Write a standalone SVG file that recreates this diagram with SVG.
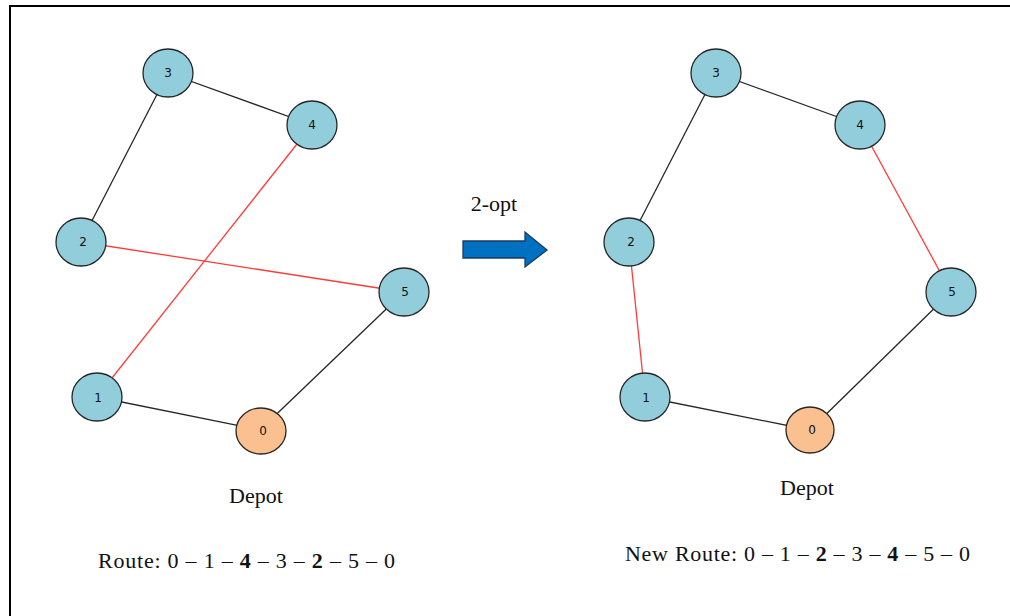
<svg xmlns="http://www.w3.org/2000/svg" width="1010" height="616" viewBox="0 0 1010 616">
<style>
.node{fill:#92CDDC;stroke:#262626;stroke-width:1.3}
.depot{fill:#FAC090;stroke:#262626;stroke-width:1.3}
.nl{font-family:"DejaVu Sans",sans-serif;font-size:12px;fill:#111;text-anchor:middle;dominant-baseline:central}
.blk{stroke:#262626;stroke-width:1.3;fill:none}
.red{stroke:#FF3B3B;stroke-width:1.3;fill:none}
.t{font-family:"Liberation Serif",serif;fill:#111}
</style>
<rect x="10" y="6" width="1010" height="620" fill="#fff" stroke="#000" stroke-width="2"/>
<g id="connectors">
<line class="blk" x1="168" y1="73" x2="312" y2="125"/>
<line class="blk" x1="168" y1="73" x2="81" y2="242"/>
<line class="red" x1="81" y1="242" x2="404" y2="292"/>
<line class="red" x1="312" y1="125" x2="97" y2="397"/>
<line class="blk" x1="97" y1="397" x2="260" y2="430"/>
<line class="blk" x1="260" y1="430" x2="404" y2="292"/>
<line class="blk" x1="716" y1="73" x2="860" y2="125"/>
<line class="blk" x1="716" y1="73" x2="629" y2="242"/>
<line class="red" x1="629" y1="242" x2="645" y2="397"/>
<line class="red" x1="860" y1="125" x2="951" y2="292"/>
<line class="blk" x1="645" y1="397" x2="810" y2="430"/>
<line class="blk" x1="810" y1="430" x2="951" y2="292"/>
</g>
<g id="L3"><ellipse class="node" cx="168" cy="73" rx="25" ry="24"/><text class="nl" x="168" y="73">3</text></g>
<g id="L4"><ellipse class="node" cx="312" cy="125" rx="25" ry="24"/><text class="nl" x="312" y="125">4</text></g>
<g id="L2"><ellipse class="node" cx="81" cy="242" rx="25" ry="24"/><text class="nl" x="83" y="242">2</text></g>
<g id="L5"><ellipse class="node" cx="404" cy="292" rx="25" ry="24"/><text class="nl" x="405" y="292">5</text></g>
<g id="L1"><ellipse class="node" cx="97" cy="397" rx="25" ry="24"/><text class="nl" x="98" y="398">1</text></g>
<g id="L0"><ellipse class="depot" cx="261" cy="431" rx="25" ry="23"/><text class="nl" x="263" y="431">0</text></g>
<g id="R3"><ellipse class="node" cx="716" cy="73" rx="25" ry="24"/><text class="nl" x="716" y="73">3</text></g>
<g id="R4"><ellipse class="node" cx="860" cy="125" rx="25" ry="24"/><text class="nl" x="860" y="125">4</text></g>
<g id="R2"><ellipse class="node" cx="629" cy="242" rx="25" ry="24"/><text class="nl" x="631" y="242">2</text></g>
<g id="R5"><ellipse class="node" cx="951" cy="292" rx="25" ry="24"/><text class="nl" x="952" y="292">5</text></g>
<g id="R1"><ellipse class="node" cx="645" cy="397" rx="25" ry="24"/><text class="nl" x="646" y="398">1</text></g>
<g id="R0"><ellipse class="depot" cx="810" cy="430" rx="24" ry="23"/><text class="nl" x="812" y="430">0</text></g>
<g id="arrow">
<polygon points="463,241 525,241 525,232 547,250 525,267 525,258 463,258" fill="#0070C0" stroke="#1F3A60" stroke-width="1.3"/>
<text class="t" x="494" y="211" font-size="22" text-anchor="middle">2-opt</text>
</g>
<g id="labels">
<text class="t" x="256" y="503" font-size="22" text-anchor="middle">Depot</text>
<text class="t" x="807" y="495" font-size="22" text-anchor="middle">Depot</text>
<text class="t" x="98" y="568" font-size="22" textLength="297">Route: 0 – 1 – <tspan font-weight="bold">4</tspan> – 3 – <tspan font-weight="bold">2</tspan> – 5 – 0</text>
<text class="t" x="625" y="561" font-size="22" textLength="345">New Route: 0 – 1 – <tspan font-weight="bold">2</tspan> – 3 – <tspan font-weight="bold">4</tspan> – 5 – 0</text>
</g>
</svg>
